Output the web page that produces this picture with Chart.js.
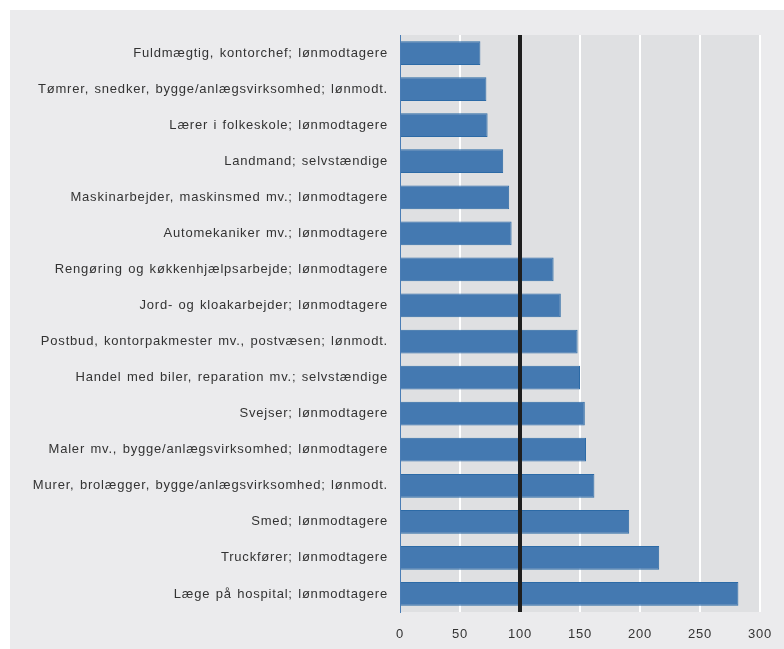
<!DOCTYPE html>
<html>
<head>
<meta charset="utf-8">
<script src="https://cdn.jsdelivr.net/npm/chart.js@4"></script>
<style>
  body { margin: 0; background: #ffffff; }
  #wrap { position: absolute; left: 10px; top: 10px; width: 774px; height: 639px; background: #ebebed; }
</style>
</head>
<body>
<div id="wrap"><canvas id="indexChart" width="774" height="639"></canvas></div>
<script>
var labels = [
    'Fuldmægtig, kontorchef; lønmodtagere',
    'Tømrer, snedker, bygge/anlægsvirksomhed; lønmodt.',
    'Lærer i folkeskole; lønmodtagere',
    'Landmand; selvstændige',
    'Maskinarbejder, maskinsmed mv.; lønmodtagere',
    'Automekaniker mv.; lønmodtagere',
    'Rengøring og køkkenhjælpsarbejde; lønmodtagere',
    'Jord- og kloakarbejder; lønmodtagere',
    'Postbud, kontorpakmester mv., postvæsen; lønmodt.',
    'Handel med biler, reparation mv.; selvstændige',
    'Svejser; lønmodtagere',
    'Maler mv., bygge/anlægsvirksomhed; lønmodtagere',
    'Murer, brolægger, bygge/anlægsvirksomhed; lønmodt.',
    'Smed; lønmodtagere',
    'Truckfører; lønmodtagere',
    'Læge på hospital; lønmodtagere'
];
var values = [67, 72, 73, 86, 91, 93, 128, 134, 148, 150, 154, 155, 162, 191, 216, 282];
var referenceLine = 100;

function setSpacing(c) {
    c.letterSpacing = '0.8px';
    c.wordSpacing = '1px';
}

// grey plot area + slightly wider text spacing like the original
var plotBackground = {
    id: 'plotBackground',
    beforeLayout: function (chart) { setSpacing(chart.ctx); },
    beforeDraw: function (chart) {
        var a = chart.chartArea;
        var c = chart.ctx;
        setSpacing(c);
        c.save();
        c.fillStyle = '#dfe0e2';
        c.fillRect(a.left, a.top, a.right - a.left, a.bottom - a.top);
        c.restore();
    }
};

// thick black line at index 100, on top of the bars
var refLine = {
    id: 'refLine',
    afterDatasetsDraw: function (chart) {
        var x = chart.scales.x.getPixelForValue(referenceLine);
        var a = chart.chartArea;
        var c = chart.ctx;
        c.save();
        c.strokeStyle = '#1e1e1e';
        c.lineWidth = 4;
        c.beginPath();
        c.moveTo(x, a.top);
        c.lineTo(x, a.bottom);
        c.stroke();
        c.restore();
    }
};

var ctx = document.getElementById('indexChart').getContext('2d');
var indexChart = new Chart(ctx, {
    type: 'bar',
    data: {
        labels: labels,
        datasets: [{
            data: values,
            backgroundColor: '#4479b1',
            borderColor: '#2c6aa6',
            borderWidth: 1,
            barPercentage: 0.66,
            categoryPercentage: 1
        }]
    },
    plugins: [plotBackground, refLine],
    options: {
        indexAxis: 'y',
        responsive: false,
        animation: false,
        layout: { padding: { top: 25, right: 24, left: 0, bottom: 0 } },
        plugins: {
            legend: { display: false },
            tooltip: { enabled: false }
        },
        scales: {
            x: {
                min: 0,
                max: 300,
                ticks: {
                    stepSize: 50,
                    color: '#333333',
                    padding: 15,
                    font: { family: 'Liberation Sans, Arial, sans-serif', size: 13 }
                },
                grid: {
                    drawTicks: false,
                    color: function (c) {
                        if (c.tick && c.tick.value === 0) return 'rgba(0,0,0,0)';
                        return '#ffffff';
                    },
                    lineWidth: 2
                },
                border: { display: false },
                afterFit: function (scale) {
                    scale.height = 37;
                    scale.paddingLeft = 0;
                    scale.paddingRight = 0;
                }
            },
            y: {
                ticks: {
                    color: '#333333',
                    padding: 12,
                    font: { family: 'Liberation Sans, Arial, sans-serif', size: 13 }
                },
                grid: { display: false, drawTicks: false },
                border: { display: true, color: '#4a7db5', width: 1 },
                afterFit: function (scale) { scale.width = 390; }
            }
        }
    }
});
</script>
</body>
</html>
